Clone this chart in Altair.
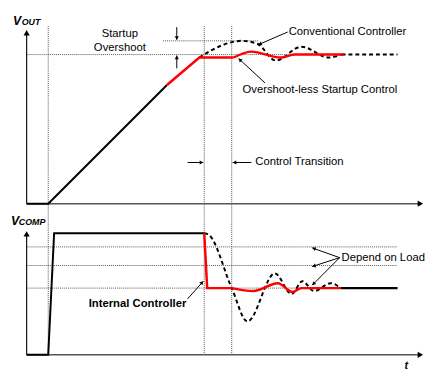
import math
import altair as alt
import pandas as pd

# ---------------- data (sheet coordinates: x = time, y = level, y grows downward) -------------
# V_OUT panel
vout_black_x = [27, 49, 170]
vout_black_y = [204, 204, 83]
vout_red_ramp_x = [170, 203, 238]
vout_red_ramp_y = [83, 55, 55]
vout_red_curve_x = [238, 256, 286, 300, 350]
vout_red_curve_y = [55, 49, 55, 52, 52]
vout_conv_x = [203, 225, 246, 262, 281, 307, 335, 348]
vout_conv_y = [55, 43, 38, 41, 58, 44, 55, 52]
vout_tail_x = [348, 405]
vout_tail_y = [52, 52]

# V_COMP panel
vcomp_black_x = [27, 49, 55, 208]
vcomp_black_y = [358, 358, 234, 234]
vcomp_red_step_x = [208, 211, 236]
vcomp_red_step_y = [234, 290, 290]
vcomp_red_curve_x = [236, 258, 283, 298, 307, 347]
vcomp_red_curve_y = [290, 293, 285, 294, 290, 290]
vcomp_tail_x = [347, 405]
vcomp_tail_y = [290, 290]
vcomp_conv_x = [208, 213, 236, 252, 280, 297, 308, 320, 337, 347]
vcomp_conv_y = [234, 236, 290, 324, 275, 296, 283, 293, 285, 290]

# guide lines (x, y, x2, y2)
dotted = [
    (49, 23, 49, 358), (208, 23, 208, 358), (236, 23, 236, 358),
    (27, 52, 350, 52), (166, 38, 263, 38),
    (27, 248, 405, 248), (27, 267, 405, 267), (27, 290, 405, 290),
]
axes_h = [(27, 204, 428, 204), (27, 358, 428, 358)]
axes_v = [(27, 204, 27, 29), (27, 358, 27, 234)]

# annotation arrows: (x_from, y_from, x_tip, y_tip)
arrows = [
    (180, 24, 180, 37), (180, 66, 180, 53),
    (293, 29, 263, 42), (270, 81, 243, 56),
    (191, 162, 207, 162), (256, 162, 237, 162),
    (191, 301, 207, 283),
    (346, 259, 318, 249), (346, 259, 318, 268), (346, 259, 318, 287),
]
axis_heads = [(27, 40, 27, 27), (27, 245, 27, 232), (415, 204, 431, 204), (415, 358, 431, 358)]

labels_plain = [
    ("Startup", 122, 31, "center"), ("Overshoot", 122, 45, "center"),
    ("Conventional Controller", 294, 29, "left"),
    ("Overshoot-less Startup Control", 247, 88, "left"),
    ("Control Transition", 260, 162, "left"),
    ("Depend on Load", 348, 259, "left"),
]
labels_bold = [("Internal Controller", 140, 306, "center")]

FONT = "Liberation Sans"
W, H = 426, 362
XS = alt.Scale(domain=[8, 8 + W], nice=False, zero=False)
YS = alt.Scale(domain=[8 + H, 8], nice=False, zero=False)


def xy_df(xs, ys):
    return pd.DataFrame({"x": xs, "y": ys, "o": range(len(xs))})


def line(xs, ys, color, width, dash=None, interp="linear"):
    kw = dict(color=color, strokeWidth=width, interpolate=interp, strokeCap="butt", strokeJoin="miter")
    if dash:
        kw["strokeDash"] = dash
    return alt.Chart(xy_df(xs, ys)).mark_line(**kw).encode(
        x=alt.X("x:Q", scale=XS, axis=None),
        y=alt.Y("y:Q", scale=YS, axis=None),
        order="o:Q",
    )


def segs(rows, color, width, dash=None):
    df = pd.DataFrame(rows, columns=["x", "y", "x2", "y2"])
    kw = dict(color=color, strokeWidth=width)
    if dash:
        kw["strokeDash"] = dash
    return alt.Chart(df).mark_rule(**kw).encode(
        x=alt.X("x:Q", scale=XS, axis=None), y=alt.Y("y:Q", scale=YS, axis=None),
        x2="x2:Q", y2="y2:Q",
    )


def heads(rows, size, color="black"):
    r = math.sqrt(size) / 2
    h = math.sqrt(3) / 2 * r
    recs = []
    for x0, y0, x1, y1 in rows:
        dx, dy = x1 - x0, y1 - y0
        d = math.hypot(dx, dy)
        ux, uy = dx / d, dy / d
        ang = math.degrees(math.atan2(dx, -dy)) % 360
        recs.append({"x": x1 - ux * h, "y": y1 - uy * h, "a": ang})
    df = pd.DataFrame(recs)
    return alt.Chart(df).mark_point(shape="triangle-up", filled=True, size=size,
                                    color=color, opacity=1, strokeWidth=0).encode(
        x=alt.X("x:Q", scale=XS, axis=None), y=alt.Y("y:Q", scale=YS, axis=None),
        angle=alt.Angle("a:Q", scale=None),
    )


def texts(rows, size, weight="normal", style="normal", baseline="middle"):
    layers = []
    for t, x, y, al in rows:
        df = pd.DataFrame({"x": [x], "y": [y], "t": [t]})
        layers.append(alt.Chart(df).mark_text(font=FONT, fontSize=size, fontWeight=weight,
                                              fontStyle=style, align=al, baseline=baseline,
                                              color="black").encode(
            x=alt.X("x:Q", scale=XS, axis=None), y=alt.Y("y:Q", scale=YS, axis=None), text="t:N"))
    return layers


layers = []
layers.append(segs(dotted, "#555555", 1, [1, 1]))
layers.append(segs(axes_h, "#555555", 1.5))
layers.append(segs(axes_v, "#111111", 1.2))
layers.append(heads(axis_heads, 40))

# V_OUT waveforms
layers.append(line(vout_conv_x, vout_conv_y, "black", 2, [4, 3], "monotone"))
layers.append(line(vout_tail_x, vout_tail_y, "black", 2, [4, 3]))
layers.append(line(vout_black_x, vout_black_y, "black", 2))
layers.append(line(vout_red_ramp_x, vout_red_ramp_y, "#ff0000", 2.5))
layers.append(line(vout_red_curve_x, vout_red_curve_y, "#ff0000", 2.5, None, "monotone"))

# V_COMP waveforms
layers.append(line(vcomp_conv_x, vcomp_conv_y, "black", 2, [4, 3], "monotone"))
layers.append(line(vcomp_black_x, vcomp_black_y, "black", 2))
layers.append(line(vcomp_tail_x, vcomp_tail_y, "black", 2.5))
layers.append(line(vcomp_red_step_x, vcomp_red_step_y, "#ff0000", 2.5))
layers.append(line(vcomp_red_curve_x, vcomp_red_curve_y, "#ff0000", 2.5, None, "monotone"))

# annotation arrows
layers.append(segs([(a, b, c, d) for a, b, c, d in arrows], "black", 1))
layers.append(heads(arrows, 18))

# text
layers += texts(labels_plain, 11.5)
layers += texts(labels_bold, 11.5, weight="bold")
layers += texts([("V", 13, 22, "left")], 12.5, "bold", "italic", "alphabetic")
layers += texts([("OUT", 22, 22, "left")], 9, "bold", "italic", "alphabetic")
layers += texts([("V", 11, 226, "left")], 12.5, "bold", "italic", "alphabetic")
layers += texts([("COMP", 19, 226, "left")], 9, "bold", "italic", "alphabetic")
layers += texts([("t", 412, 372, "left")], 11, "bold", "italic", "alphabetic")

chart = alt.layer(*layers).properties(
    width=W, height=H, autosize=alt.AutoSizeParams(type="none"), padding=0
).configure_view(stroke=None)

chart.save("out.html", embed_options={"renderer": "svg", "actions": False})
